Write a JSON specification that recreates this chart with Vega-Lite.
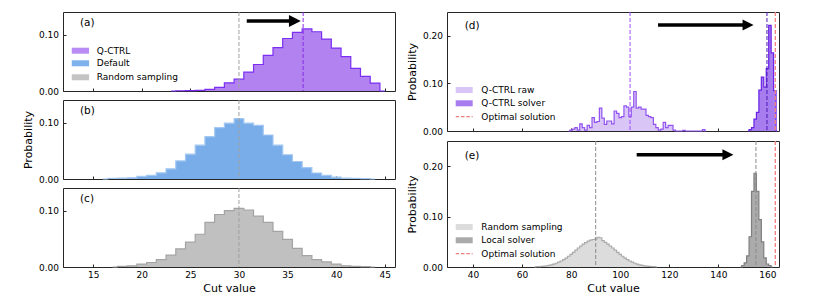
{
  "$schema": "https://vega.github.io/schema/vega-lite/v6.json",
  "background": "white",
  "autosize": {"type": "pad"},
  "padding": {"left": 21, "top": 10, "right": 5, "bottom": 5},
  "config": {
    "font": "DejaVu Sans",
    "view": {"stroke": "#262626", "strokeWidth": 1},
    "axis": {"domain": false, "grid": false, "tickSize": -3, "tickColor": "#262626", "tickWidth": 1, "labelFontSize": 9, "labelColor": "#000", "labelPadding": 7.5, "labelOverlap": false, "labelSeparation": 0, "titleFontSize": 11, "titleFontWeight": "normal", "titleColor": "#000", "titlePadding": 5},
    "axisX": {"labelPadding": 6.5, "titlePadding": 3}
  },
  "datasets": {
    "qa": [
      {"x": 23, "y": 0}, {"x": 24, "y": 0.0004}, {"x": 25, "y": 0.0008}, {"x": 26, "y": 0.0012}, {"x": 27, "y": 0.003}, {"x": 28, "y": 0.0066},
      {"x": 29, "y": 0.0144}, {"x": 30, "y": 0.021}, {"x": 31, "y": 0.0335}, {"x": 32, "y": 0.047}, {"x": 33, "y": 0.063}, {"x": 34, "y": 0.077},
      {"x": 35, "y": 0.093}, {"x": 36, "y": 0.104}, {"x": 37, "y": 0.11}, {"x": 38, "y": 0.105}, {"x": 39, "y": 0.092}, {"x": 40, "y": 0.076},
      {"x": 41, "y": 0.061}, {"x": 42, "y": 0.04}, {"x": 43, "y": 0.026}, {"x": 44, "y": 0.014}, {"x": 45, "y": 0}
    ],
    "db": [
      {"x": 16, "y": 0}, {"x": 17, "y": 0.001}, {"x": 18, "y": 0.0015}, {"x": 19, "y": 0.002}, {"x": 20, "y": 0.0045}, {"x": 21, "y": 0.0063},
      {"x": 22, "y": 0.011}, {"x": 23, "y": 0.018}, {"x": 24, "y": 0.032}, {"x": 25, "y": 0.044}, {"x": 26, "y": 0.06}, {"x": 27, "y": 0.075},
      {"x": 28, "y": 0.091}, {"x": 29, "y": 0.099}, {"x": 30, "y": 0.107}, {"x": 31, "y": 0.099}, {"x": 32, "y": 0.095}, {"x": 33, "y": 0.078},
      {"x": 34, "y": 0.06}, {"x": 35, "y": 0.043}, {"x": 36, "y": 0.031}, {"x": 37, "y": 0.02}, {"x": 38, "y": 0.0106}, {"x": 39, "y": 0.0063},
      {"x": 40, "y": 0.0033}, {"x": 41, "y": 0.0015}, {"x": 42, "y": 0.001}, {"x": 43, "y": 0.0005}, {"x": 44, "y": 0}
    ],
    "rc": [
      {"x": 17, "y": 0}, {"x": 18, "y": 0.001}, {"x": 19, "y": 0.002}, {"x": 20, "y": 0.005}, {"x": 21, "y": 0.008}, {"x": 22, "y": 0.013},
      {"x": 23, "y": 0.021}, {"x": 24, "y": 0.032}, {"x": 25, "y": 0.044}, {"x": 26, "y": 0.058}, {"x": 27, "y": 0.079}, {"x": 28, "y": 0.093},
      {"x": 29, "y": 0.1}, {"x": 30, "y": 0.104}, {"x": 31, "y": 0.101}, {"x": 32, "y": 0.09}, {"x": 33, "y": 0.079}, {"x": 34, "y": 0.063},
      {"x": 35, "y": 0.049}, {"x": 36, "y": 0.033}, {"x": 37, "y": 0.02}, {"x": 38, "y": 0.013}, {"x": 39, "y": 0.009}, {"x": 40, "y": 0.005},
      {"x": 41, "y": 0.002}, {"x": 42, "y": 0.001}, {"x": 43, "y": 0.0005}, {"x": 44, "y": 0}
    ],
    "qd": [
      {"x": 79, "y": 0, "k": "raw"}, {"x": 80, "y": 0.002, "k": "raw"}, {"x": 81, "y": 0.004, "k": "raw"}, {"x": 82, "y": 0.007, "k": "raw"},
      {"x": 83, "y": 0.002, "k": "raw"}, {"x": 84, "y": 0.015, "k": "raw"}, {"x": 85, "y": 0.007, "k": "raw"}, {"x": 86, "y": 0.002, "k": "raw"},
      {"x": 87, "y": 0.012, "k": "raw"}, {"x": 88, "y": 0.007, "k": "raw"}, {"x": 89, "y": 0.028, "k": "raw"}, {"x": 90, "y": 0.018, "k": "raw"},
      {"x": 91, "y": 0.02, "k": "raw"}, {"x": 92, "y": 0.048, "k": "raw"}, {"x": 93, "y": 0.027, "k": "raw"}, {"x": 94, "y": 0.014, "k": "raw"},
      {"x": 95, "y": 0.021, "k": "raw"}, {"x": 96, "y": 0.021, "k": "raw"}, {"x": 97, "y": 0.015, "k": "raw"}, {"x": 98, "y": 0.042, "k": "raw"},
      {"x": 99, "y": 0.037, "k": "raw"}, {"x": 100, "y": 0.028, "k": "raw"}, {"x": 101, "y": 0.03, "k": "raw"}, {"x": 102, "y": 0.053, "k": "raw"},
      {"x": 103, "y": 0.05, "k": "raw"}, {"x": 104, "y": 0.03, "k": "raw"}, {"x": 105, "y": 0.05, "k": "raw"}, {"x": 106, "y": 0.083, "k": "raw"},
      {"x": 107, "y": 0.048, "k": "raw"}, {"x": 108, "y": 0.05, "k": "raw"}, {"x": 109, "y": 0.046, "k": "raw"}, {"x": 110, "y": 0.046, "k": "raw"},
      {"x": 111, "y": 0.033, "k": "raw"}, {"x": 112, "y": 0.03, "k": "raw"}, {"x": 113, "y": 0.028, "k": "raw"}, {"x": 114, "y": 0.014, "k": "raw"},
      {"x": 115, "y": 0.007, "k": "raw"}, {"x": 116, "y": 0.002, "k": "raw"}, {"x": 117, "y": 0.004, "k": "raw"}, {"x": 118, "y": 0.018, "k": "raw"},
      {"x": 119, "y": 0.007, "k": "raw"}, {"x": 120, "y": 0.012, "k": "raw"}, {"x": 121, "y": 0.012, "k": "raw"}, {"x": 122, "y": 0.002, "k": "raw"},
      {"x": 123, "y": 0, "k": "raw"}, {"x": 124, "y": 0, "k": "raw"}, {"x": 125, "y": 0, "k": "raw"}, {"x": 126, "y": 0.0015, "k": "raw"},
      {"x": 127, "y": 0, "k": "raw"}, {"x": 128, "y": 0, "k": "raw"}, {"x": 129, "y": 0, "k": "raw"}, {"x": 130, "y": 0, "k": "raw"},
      {"x": 131, "y": 0, "k": "raw"}, {"x": 132, "y": 0, "k": "raw"}, {"x": 133, "y": 0, "k": "raw"}, {"x": 134, "y": 0.003, "k": "raw"},
      {"x": 135, "y": 0, "k": "raw"},
      {"x": 152, "y": 0, "k": "sol"}, {"x": 153, "y": 0.003, "k": "sol"}, {"x": 154, "y": 0.007, "k": "sol"}, {"x": 155, "y": 0.025, "k": "sol"},
      {"x": 156, "y": 0.039, "k": "sol"}, {"x": 157, "y": 0.086, "k": "sol"}, {"x": 158, "y": 0.113, "k": "sol"}, {"x": 159, "y": 0.092, "k": "sol"},
      {"x": 160, "y": 0.131, "k": "sol"}, {"x": 161, "y": 0.222, "k": "sol"}, {"x": 162, "y": 0.164, "k": "sol"}, {"x": 163, "y": 0.085, "k": "sol"},
      {"x": 164, "y": 0, "k": "sol"}
    ],
    "re": [
      {"x": 65, "y": 0, "k": "rnd2"}, {"x": 66, "y": 0.0006, "k": "rnd2"}, {"x": 67, "y": 0.0009, "k": "rnd2"}, {"x": 68, "y": 0.0013, "k": "rnd2"},
      {"x": 69, "y": 0.0018, "k": "rnd2"}, {"x": 70, "y": 0.0024, "k": "rnd2"}, {"x": 71, "y": 0.0033, "k": "rnd2"}, {"x": 72, "y": 0.0044, "k": "rnd2"},
      {"x": 73, "y": 0.0058, "k": "rnd2"}, {"x": 74, "y": 0.0074, "k": "rnd2"}, {"x": 75, "y": 0.0095, "k": "rnd2"}, {"x": 76, "y": 0.0119, "k": "rnd2"},
      {"x": 77, "y": 0.0146, "k": "rnd2"}, {"x": 78, "y": 0.0178, "k": "rnd2"}, {"x": 79, "y": 0.0213, "k": "rnd2"}, {"x": 80, "y": 0.0252, "k": "rnd2"},
      {"x": 81, "y": 0.0292, "k": "rnd2"}, {"x": 82, "y": 0.0334, "k": "rnd2"}, {"x": 83, "y": 0.0377, "k": "rnd2"}, {"x": 84, "y": 0.0417, "k": "rnd2"},
      {"x": 85, "y": 0.0453, "k": "rnd2"}, {"x": 86, "y": 0.0485, "k": "rnd2"}, {"x": 87, "y": 0.0512, "k": "rnd2"}, {"x": 88, "y": 0.0533, "k": "rnd2"},
      {"x": 89, "y": 0.0546, "k": "rnd2"}, {"x": 90, "y": 0.0555, "k": "rnd2"}, {"x": 91, "y": 0.059, "k": "rnd2"}, {"x": 92, "y": 0.058, "k": "rnd2"},
      {"x": 93, "y": 0.0525, "k": "rnd2"}, {"x": 94, "y": 0.0488, "k": "rnd2"}, {"x": 95, "y": 0.0455, "k": "rnd2"}, {"x": 96, "y": 0.0417, "k": "rnd2"},
      {"x": 97, "y": 0.0377, "k": "rnd2"}, {"x": 98, "y": 0.0334, "k": "rnd2"}, {"x": 99, "y": 0.0292, "k": "rnd2"}, {"x": 100, "y": 0.0252, "k": "rnd2"},
      {"x": 101, "y": 0.0213, "k": "rnd2"}, {"x": 102, "y": 0.0178, "k": "rnd2"}, {"x": 103, "y": 0.0146, "k": "rnd2"}, {"x": 104, "y": 0.0119, "k": "rnd2"},
      {"x": 105, "y": 0.0095, "k": "rnd2"}, {"x": 106, "y": 0.0074, "k": "rnd2"}, {"x": 107, "y": 0.0058, "k": "rnd2"}, {"x": 108, "y": 0.0044, "k": "rnd2"},
      {"x": 109, "y": 0.0033, "k": "rnd2"}, {"x": 110, "y": 0.0024, "k": "rnd2"}, {"x": 111, "y": 0.0018, "k": "rnd2"}, {"x": 112, "y": 0.0013, "k": "rnd2"},
      {"x": 113, "y": 0.0009, "k": "rnd2"}, {"x": 114, "y": 0.0006, "k": "rnd2"}, {"x": 115, "y": 0, "k": "rnd2"},
      {"x": 149, "y": 0, "k": "loc"}, {"x": 150, "y": 0.003, "k": "loc"}, {"x": 151, "y": 0.008, "k": "loc"}, {"x": 152, "y": 0.022, "k": "loc"},
      {"x": 153, "y": 0.06, "k": "loc"}, {"x": 154, "y": 0.15, "k": "loc"}, {"x": 155, "y": 0.186, "k": "loc"}, {"x": 156, "y": 0.15, "k": "loc"},
      {"x": 157, "y": 0.094, "k": "loc"}, {"x": 158, "y": 0.05, "k": "loc"}, {"x": 159, "y": 0.018, "k": "loc"}, {"x": 160, "y": 0.006, "k": "loc"},
      {"x": 161, "y": 0.003, "k": "loc"}, {"x": 162, "y": 0, "k": "loc"}
    ],
    "lega": [
      {"k": "qa", "t": "Q-CTRL", "x": 12.8, "x2": 14.58, "lx": 15.37, "y": 0.0714},
      {"k": "def", "t": "Default", "x": 12.8, "x2": 14.58, "lx": 15.37, "y": 0.0491},
      {"k": "rnd", "t": "Random sampling", "x": 12.8, "x2": 14.58, "lx": 15.37, "y": 0.0243}
    ],
    "legd": [
      {"k": "raw", "t": "Q-CTRL raw", "x": 32.95, "x2": 39.87, "lx": 43.4, "y": 0.0861},
      {"k": "sol", "t": "Q-CTRL solver", "x": 32.95, "x2": 39.87, "lx": 43.4, "y": 0.0582},
      {"k": "opt", "t": "Optimal solution", "x": 32.95, "x2": 39.87, "lx": 43.4, "y": 0.03}
    ],
    "lege": [
      {"k": "rnd2", "t": "Random sampling", "x": 32.95, "x2": 39.87, "lx": 43.4, "y": 0.0794},
      {"k": "loc", "t": "Local solver", "x": 32.95, "x2": 39.87, "lx": 43.4, "y": 0.053},
      {"k": "opt", "t": "Optimal solution", "x": 32.95, "x2": 39.87, "lx": 43.4, "y": 0.0264}
    ]
  },
  "spacing": 9,
  "hconcat": [
    {
      "spacing": 2,
      "vconcat": [
        {
          "width": 332, "height": 79,
          "layer": [
            {"data": {"name": "qa"}, "mark": {"type": "area", "interpolate": "step", "color": "#b282f1"},
             "encoding": {
               "x": {"field": "x", "type": "quantitative", "scale": {"domain": [11.9, 46.05], "nice": false, "zero": false}, "axis": {"values": [15, 20, 25, 30, 35, 40, 45], "labels": false, "title": null, "labelOverlap": false}},
               "y": {"field": "y", "type": "quantitative", "scale": {"domain": [0, 0.14], "nice": false}, "axis": {"values": [0, 0.05, 0.1], "format": ".2f", "title": null, "labelOverlap": false, "labelBound": false}}
             }},
            {"data": {"name": "qa"}, "mark": {"type": "line", "interpolate": "step", "color": "#7b2ff2", "strokeWidth": 1.2},
             "encoding": {"x": {"field": "x", "type": "quantitative"}, "y": {"field": "y", "type": "quantitative"}}},
            {"data": {"values": [{"x": 30}]}, "mark": {"type": "rule", "color": "#a0a0a0", "strokeDash": [4, 2], "strokeWidth": 1},
             "encoding": {"x": {"field": "x", "type": "quantitative"}}},
            {"data": {"values": [{"x": 36.6}]}, "mark": {"type": "rule", "color": "#8a2be2", "strokeDash": [4, 2], "strokeWidth": 1},
             "encoding": {"x": {"field": "x", "type": "quantitative"}}},
            {"data": {"values": [{"x": 30.8, "x2": 35.3, "y": 0.124}]}, "mark": {"type": "rule", "color": "black", "strokeWidth": 3.5},
             "encoding": {"x": {"field": "x", "type": "quantitative"}, "x2": {"field": "x2"}, "y": {"field": "y", "type": "quantitative"}}},
            {"data": {"values": [{"x": 35.75, "y": 0.124}]}, "mark": {"type": "point", "shape": "M -1 -1 L 1 0 L -1 1 Z", "filled": true, "color": "black", "opacity": 1, "size": 140, "strokeWidth": 0},
             "encoding": {"x": {"field": "x", "type": "quantitative"}, "y": {"field": "y", "type": "quantitative"}}},
            {"data": {"values": [{"x": 13.65, "y": 0.121, "t": "(a)"}]}, "mark": {"type": "text", "align": "left", "baseline": "middle", "fontSize": 10.5, "color": "black"},
             "encoding": {"x": {"field": "x", "type": "quantitative"}, "y": {"field": "y", "type": "quantitative"}, "text": {"field": "t"}}},
            {"data": {"name": "lega"}, "mark": {"type": "rule", "strokeWidth": 6},
             "encoding": {
               "x": {"field": "x", "type": "quantitative"}, "x2": {"field": "x2"}, "y": {"field": "y", "type": "quantitative"},
               "color": {"field": "k", "type": "nominal", "scale": {"domain": ["qa", "def", "rnd", "raw", "sol", "rnd2", "loc", "opt"], "range": ["#b98cf3", "#7fb2ec", "#c4c4c4", "#dac5f7", "#a67cef", "#dcdcdc", "#ababab", "#f08080"]}, "legend": null}
             }},
            {"data": {"name": "lega"}, "mark": {"type": "text", "align": "left", "baseline": "middle", "fontSize": 9, "color": "black"},
             "encoding": {"x": {"field": "lx", "type": "quantitative"}, "y": {"field": "y", "type": "quantitative"}, "text": {"field": "t"}}}
          ]
        },
        {
          "width": 332, "height": 79,
          "layer": [
            {"data": {"name": "db"}, "mark": {"type": "area", "interpolate": "step", "color": "#78adea"},
             "encoding": {
               "x": {"field": "x", "type": "quantitative", "scale": {"domain": [11.9, 46.05], "nice": false, "zero": false}, "axis": {"values": [15, 20, 25, 30, 35, 40, 45], "labels": false, "title": null, "labelOverlap": false}},
               "y": {"field": "y", "type": "quantitative", "scale": {"domain": [0, 0.14], "nice": false}, "axis": {"values": [0, 0.05, 0.1], "format": ".2f", "title": "Probability", "labelOverlap": false, "labelBound": false}}
             }},
            {"data": {"name": "db"}, "mark": {"type": "line", "interpolate": "step", "color": "#a3c8f1", "strokeWidth": 1.2},
             "encoding": {"x": {"field": "x", "type": "quantitative"}, "y": {"field": "y", "type": "quantitative"}}},
            {"data": {"values": [{"x": 30}]}, "mark": {"type": "rule", "color": "#a0a0a0", "strokeDash": [4, 2], "strokeWidth": 1},
             "encoding": {"x": {"field": "x", "type": "quantitative"}}},
            {"data": {"values": [{"x": 13.65, "y": 0.121, "t": "(b)"}]}, "mark": {"type": "text", "align": "left", "baseline": "middle", "fontSize": 10.5, "color": "black"},
             "encoding": {"x": {"field": "x", "type": "quantitative"}, "y": {"field": "y", "type": "quantitative"}, "text": {"field": "t"}}}
          ]
        },
        {
          "width": 332, "height": 79,
          "layer": [
            {"data": {"name": "rc"}, "mark": {"type": "area", "interpolate": "step", "color": "#c0c0c0"},
             "encoding": {
               "x": {"field": "x", "type": "quantitative", "scale": {"domain": [11.9, 46.05], "nice": false, "zero": false}, "axis": {"values": [15, 20, 25, 30, 35, 40, 45], "title": "Cut value", "labelOverlap": false}},
               "y": {"field": "y", "type": "quantitative", "scale": {"domain": [0, 0.14], "nice": false}, "axis": {"values": [0, 0.05, 0.1], "format": ".2f", "title": null, "labelOverlap": false, "labelBound": false}}
             }},
            {"data": {"name": "rc"}, "mark": {"type": "line", "interpolate": "step", "color": "#a3a3a3", "strokeWidth": 1.2},
             "encoding": {"x": {"field": "x", "type": "quantitative"}, "y": {"field": "y", "type": "quantitative"}}},
            {"data": {"values": [{"x": 30}]}, "mark": {"type": "rule", "color": "#a0a0a0", "strokeDash": [4, 2], "strokeWidth": 1},
             "encoding": {"x": {"field": "x", "type": "quantitative"}}},
            {"data": {"values": [{"x": 13.65, "y": 0.121, "t": "(c)"}]}, "mark": {"type": "text", "align": "left", "baseline": "middle", "fontSize": 10.5, "color": "black"},
             "encoding": {"x": {"field": "x", "type": "quantitative"}, "y": {"field": "y", "type": "quantitative"}, "text": {"field": "t"}}}
          ]
        }
      ]
    },
    {
      "spacing": 2,
      "vconcat": [
        {
          "width": 332, "height": 119,
          "layer": [
            {"data": {"name": "qd"}, "mark": {"type": "area", "interpolate": "step"},
             "encoding": {
               "x": {"field": "x", "type": "quantitative", "scale": {"domain": [29.4, 164.7], "nice": false, "zero": false}, "axis": {"values": [40, 60, 80, 100, 120, 140, 160], "labels": false, "title": null, "labelOverlap": false}},
               "y": {"field": "y", "type": "quantitative", "scale": {"domain": [0, 0.25], "nice": false}, "axis": {"values": [0, 0.05, 0.1, 0.15, 0.2, 0.25], "format": ".2f", "title": "Probability", "labelOverlap": false, "labelBound": false}},
               "color": {"field": "k", "type": "nominal", "scale": {"domain": ["qa", "def", "rnd", "raw", "sol", "rnd2", "loc", "opt"], "range": ["#b98cf3", "#7fb2ec", "#c4c4c4", "#dac5f7", "#a67cef", "#dcdcdc", "#ababab", "#f08080"]}, "legend": null}
             }},
            {"data": {"name": "qd"}, "transform": [{"filter": "datum.k === 'raw'"}], "mark": {"type": "line", "interpolate": "step", "strokeWidth": 1.2, "color": "#9254f0"},
             "encoding": {"x": {"field": "x", "type": "quantitative"}, "y": {"field": "y", "type": "quantitative"}}},
            {"data": {"name": "qd"}, "transform": [{"filter": "datum.k === 'sol'"}], "mark": {"type": "line", "interpolate": "step", "strokeWidth": 1.2, "color": "#6a22e6"},
             "encoding": {"x": {"field": "x", "type": "quantitative"}, "y": {"field": "y", "type": "quantitative"}}},
            {"data": {"values": [{"x": 104}]}, "mark": {"type": "rule", "color": "#9b4dff", "strokeDash": [4, 2], "strokeWidth": 1},
             "encoding": {"x": {"field": "x", "type": "quantitative"}}},
            {"data": {"values": [{"x": 159.8}]}, "mark": {"type": "rule", "color": "#4a1ab8", "strokeDash": [4, 2], "strokeWidth": 1},
             "encoding": {"x": {"field": "x", "type": "quantitative"}}},
            {"data": {"values": [{"x": 163.2}]}, "mark": {"type": "rule", "color": "#f08080", "strokeDash": [4, 2], "strokeWidth": 1.3},
             "encoding": {"x": {"field": "x", "type": "quantitative"}}},
            {"data": {"values": [{"x": 115.4, "x2": 150.6, "y": 0.2227}]}, "mark": {"type": "rule", "color": "black", "strokeWidth": 3.5},
             "encoding": {"x": {"field": "x", "type": "quantitative"}, "x2": {"field": "x2"}, "y": {"field": "y", "type": "quantitative"}}},
            {"data": {"values": [{"x": 152.1, "y": 0.2227}]}, "mark": {"type": "point", "shape": "M -1 -1 L 1 0 L -1 1 Z", "filled": true, "color": "black", "opacity": 1, "size": 121, "strokeWidth": 0},
             "encoding": {"x": {"field": "x", "type": "quantitative"}, "y": {"field": "y", "type": "quantitative"}}},
            {"data": {"values": [{"x": 36.6, "y": 0.2206, "t": "(d)"}]}, "mark": {"type": "text", "align": "left", "baseline": "middle", "fontSize": 10.5, "color": "black"},
             "encoding": {"x": {"field": "x", "type": "quantitative"}, "y": {"field": "y", "type": "quantitative"}, "text": {"field": "t"}}},
            {"data": {"name": "legd"}, "transform": [{"filter": "datum.k !== 'opt'"}], "mark": {"type": "rule", "strokeWidth": 6},
             "encoding": {
               "x": {"field": "x", "type": "quantitative"}, "x2": {"field": "x2"}, "y": {"field": "y", "type": "quantitative"},
               "color": {"field": "k", "type": "nominal", "scale": {"domain": ["qa", "def", "rnd", "raw", "sol", "rnd2", "loc", "opt"], "range": ["#b98cf3", "#7fb2ec", "#c4c4c4", "#dac5f7", "#a67cef", "#dcdcdc", "#ababab", "#f08080"]}, "legend": null}
             }},
            {"data": {"name": "legd"}, "transform": [{"filter": "datum.k === 'opt'"}], "mark": {"type": "rule", "strokeWidth": 1.3, "strokeDash": [3.5, 1.8], "color": "#f08080"},
             "encoding": {"x": {"field": "x", "type": "quantitative"}, "x2": {"field": "x2"}, "y": {"field": "y", "type": "quantitative"}}},
            {"data": {"name": "legd"}, "mark": {"type": "text", "align": "left", "baseline": "middle", "fontSize": 9, "color": "black"},
             "encoding": {"x": {"field": "lx", "type": "quantitative"}, "y": {"field": "y", "type": "quantitative"}, "text": {"field": "t"}}}
          ]
        },
        {
          "width": 332, "height": 126,
          "layer": [
            {"data": {"name": "re"}, "mark": {"type": "area", "interpolate": "step"},
             "encoding": {
               "x": {"field": "x", "type": "quantitative", "scale": {"domain": [29.4, 164.7], "nice": false, "zero": false}, "axis": {"values": [40, 60, 80, 100, 120, 140, 160], "title": "Cut value", "labelOverlap": false}},
               "y": {"field": "y", "type": "quantitative", "scale": {"domain": [0, 0.25], "nice": false}, "axis": {"values": [0, 0.05, 0.1, 0.15, 0.2, 0.25], "format": ".2f", "title": "Probability", "labelOverlap": false, "labelBound": false}},
               "color": {"field": "k", "type": "nominal", "scale": {"domain": ["qa", "def", "rnd", "raw", "sol", "rnd2", "loc", "opt"], "range": ["#b98cf3", "#7fb2ec", "#c4c4c4", "#dac5f7", "#a67cef", "#dcdcdc", "#ababab", "#f08080"]}, "legend": null}
             }},
            {"data": {"name": "re"}, "transform": [{"filter": "datum.k === 'rnd2'"}], "mark": {"type": "line", "interpolate": "step", "strokeWidth": 1.2, "color": "#ababab"},
             "encoding": {"x": {"field": "x", "type": "quantitative"}, "y": {"field": "y", "type": "quantitative"}}},
            {"data": {"name": "re"}, "transform": [{"filter": "datum.k === 'loc'"}], "mark": {"type": "line", "interpolate": "step", "strokeWidth": 1.2, "color": "#7f7f7f"},
             "encoding": {"x": {"field": "x", "type": "quantitative"}, "y": {"field": "y", "type": "quantitative"}}},
            {"data": {"values": [{"x": 90}, {"x": 155.3}]}, "mark": {"type": "rule", "color": "#8c8c8c", "strokeDash": [4, 2], "strokeWidth": 1},
             "encoding": {"x": {"field": "x", "type": "quantitative"}}},
            {"data": {"values": [{"x": 163.2}]}, "mark": {"type": "rule", "color": "#f08080", "strokeDash": [4, 2], "strokeWidth": 1.3},
             "encoding": {"x": {"field": "x", "type": "quantitative"}}},
            {"data": {"values": [{"x": 106.7, "x2": 142.4, "y": 0.2228}]}, "mark": {"type": "rule", "color": "black", "strokeWidth": 3.5},
             "encoding": {"x": {"field": "x", "type": "quantitative"}, "x2": {"field": "x2"}, "y": {"field": "y", "type": "quantitative"}}},
            {"data": {"values": [{"x": 143.9, "y": 0.2228}]}, "mark": {"type": "point", "shape": "M -1 -1 L 1 0 L -1 1 Z", "filled": true, "color": "black", "opacity": 1, "size": 121, "strokeWidth": 0},
             "encoding": {"x": {"field": "x", "type": "quantitative"}, "y": {"field": "y", "type": "quantitative"}}},
            {"data": {"values": [{"x": 36.6, "y": 0.22, "t": "(e)"}]}, "mark": {"type": "text", "align": "left", "baseline": "middle", "fontSize": 10.5, "color": "black"},
             "encoding": {"x": {"field": "x", "type": "quantitative"}, "y": {"field": "y", "type": "quantitative"}, "text": {"field": "t"}}},
            {"data": {"name": "lege"}, "transform": [{"filter": "datum.k !== 'opt'"}], "mark": {"type": "rule", "strokeWidth": 6},
             "encoding": {
               "x": {"field": "x", "type": "quantitative"}, "x2": {"field": "x2"}, "y": {"field": "y", "type": "quantitative"},
               "color": {"field": "k", "type": "nominal", "scale": {"domain": ["qa", "def", "rnd", "raw", "sol", "rnd2", "loc", "opt"], "range": ["#b98cf3", "#7fb2ec", "#c4c4c4", "#dac5f7", "#a67cef", "#dcdcdc", "#ababab", "#f08080"]}, "legend": null}
             }},
            {"data": {"name": "lege"}, "transform": [{"filter": "datum.k === 'opt'"}], "mark": {"type": "rule", "strokeWidth": 1.3, "strokeDash": [3.5, 1.8], "color": "#f08080"},
             "encoding": {"x": {"field": "x", "type": "quantitative"}, "x2": {"field": "x2"}, "y": {"field": "y", "type": "quantitative"}}},
            {"data": {"name": "lege"}, "mark": {"type": "text", "align": "left", "baseline": "middle", "fontSize": 9, "color": "black"},
             "encoding": {"x": {"field": "lx", "type": "quantitative"}, "y": {"field": "y", "type": "quantitative"}, "text": {"field": "t"}}}
          ]
        }
      ]
    }
  ]
}
